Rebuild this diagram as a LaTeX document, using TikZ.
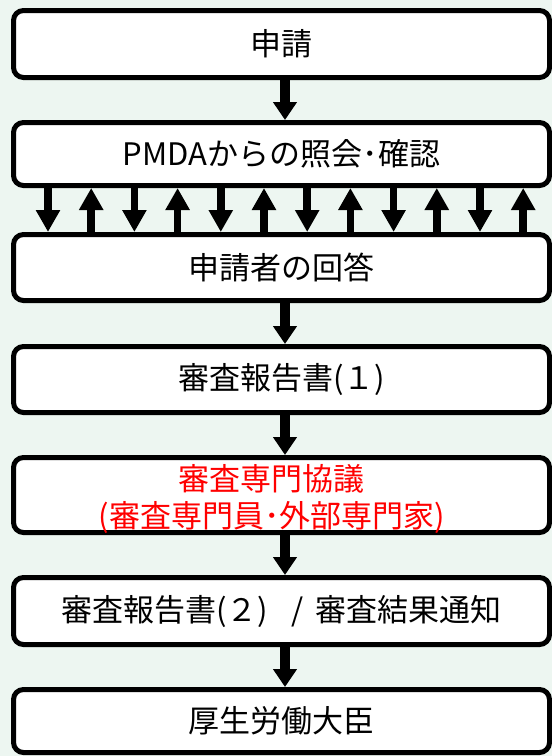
\documentclass[tikz,border=0pt]{standalone}
\usepackage{fontspec}
\setmainfont{Noto Sans CJK JP}
\usetikzlibrary{arrows.meta}
\definecolor{bgmint}{RGB}{237,246,241}
\begin{document}
\begin{tikzpicture}[x=1pt,y=-1pt,
  jp/.style={font=\fontsize{31}{37}\selectfont},
  box/.style={draw=black, line width=5pt, fill=white, rounded corners=10pt,
    minimum width=536pt, inner sep=0pt, align=center, jp},
  bigarrow/.style={line width=10pt, -{Triangle[width=23pt,length=18pt]}},
  smallarrow/.style={line width=7.5pt, -{Triangle[width=23pt,length=22pt]}}]
\useasboundingbox (0,0) rectangle (552,756);
\fill[bgmint] (0,0) rectangle (552,756);
\node[box, minimum height=67pt] (b1) at (281.5,44) {申請};
\node[box, minimum height=63pt] (b2) at (281.5,154) {PMDAからの照会･確認};
\node[box, minimum height=66pt] (b3) at (281.5,267.5) {申請者の回答};
\node[box, minimum height=66pt] (b4) at (281.5,379.5) {審査報告書(１)};
\node[box, minimum height=75pt] (b5) at (281.5,495) {};
\node[jp, text=red, align=center, inner sep=0pt] (b5t) at (272,499) {審査専門協議\\(審査専門員･外部専門家)};
\node[box, minimum height=67pt] (b6) at (281.5,611) {審査報告書(２)\hspace{0.75em}/\hspace{0.4em}審査結果通知};
\node[box, minimum height=63pt] (b7) at (281.5,721) {厚生労働大臣};
\coordinate (ax) at (285,0);
\draw[bigarrow] (b1.south -| ax) -- (b2.north -| ax);
\draw[bigarrow] (b3.south -| ax) -- (b4.north -| ax);
\draw[bigarrow] (b4.south -| ax) -- (b5.north -| ax);
\draw[bigarrow] (b5.south -| ax) -- (b6.north -| ax);
\draw[bigarrow] (b6.south -| ax) -- (b7.north -| ax);
\foreach \i in {0,...,11}{
  \pgfmathsetmacro\xx{48+43.2*\i}
  \coordinate (s\i) at (\xx,0);
  \ifodd\i
    \draw[smallarrow] (b3.north -| s\i) -- (b2.south -| s\i);
  \else
    \draw[smallarrow] (b2.south -| s\i) -- (b3.north -| s\i);
  \fi
}
\end{tikzpicture}
\end{document}
